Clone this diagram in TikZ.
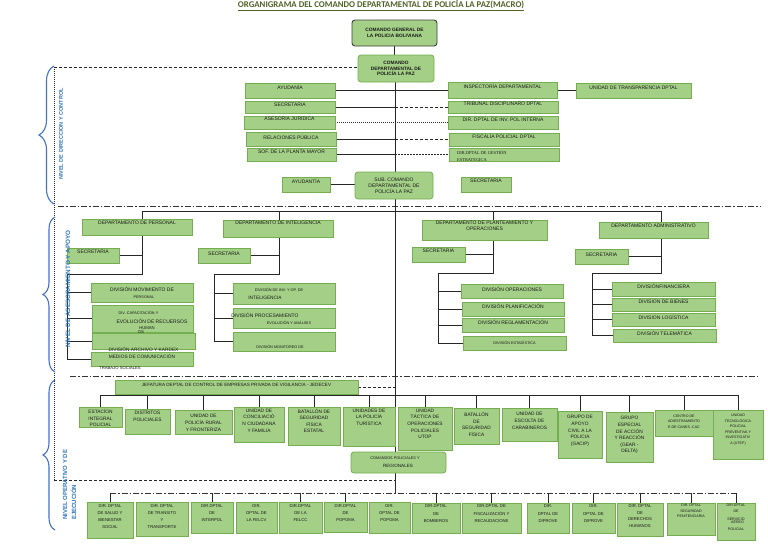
\documentclass[tikz,border=0pt]{standalone}
\usepackage{fontspec}
\setmainfont{Liberation Sans}
\newfontfamily\titlefont{Carlito}
\newfontfamily\serifft{Liberation Serif}
\usetikzlibrary{decorations.pathreplacing}
\pgfdeclarelayer{bg}
\pgfsetlayers{bg,main}
\definecolor{boxfill}{HTML}{A3CF86}
\definecolor{boxline}{HTML}{74AE50}
\definecolor{darkb}{HTML}{404040}
\definecolor{txt}{HTML}{1A1A1A}
\definecolor{lvl}{HTML}{2E75B6}
\definecolor{bracecol}{HTML}{4472C4}
\definecolor{ttl}{HTML}{4F6228}
\newcommand\fs[2]{\fontsize{#1}{#2}\selectfont}
\newcommand\bx[5]{\node[gbox,minimum width=#4pt,minimum height=#5pt,anchor=north west] (#1) at (#2,#3) {};}
\newcommand\gb[8]{%
 \node[gbox,minimum width=#4pt,minimum height=#5pt,anchor=north west] (#1) at (#2,#3) {};%
 \node[lbl,anchor=north,#7] (#1t) at ([yshift=-#6pt]#1.north) {#8};}
\begin{document}
\begin{tikzpicture}[x=1pt,y=-1pt,
 gbox/.style={draw=boxline,fill=boxfill,line width=0.8pt,inner sep=0pt,outer sep=0pt},
 rbox/.style={gbox,rounded corners=3pt},
 lbl/.style={inner sep=0.3pt,align=center,text=txt,font=\fs{5}{6}},
 fsm/.style={font=\fs{4.8}{6.6}},
 fss/.style={font=\fs{4.2}{7.2}},
 fsxs/.style={font=\fs{3.6}{5.5}},
 conn/.style={draw=black!85,line width=1pt},
 dashc/.style={conn,dash pattern=on 3pt off 2pt},
 dotc/.style={conn,dash pattern=on 1pt off 1pt},
 sepdd/.style={draw=black!80,line width=0.9pt,dash pattern=on 6pt off 2pt on 1.5pt off 2pt},
 lvltxt/.style={text=lvl,font=\bfseries\fs{5.5}{7},inner sep=0pt},
 bracestyle/.style={draw=bracecol,line width=1.1pt,decorate,decoration={brace,amplitude=#1}}]
\useasboundingbox (0,0) rectangle (768,544);

% title
\node[font=\titlefont\bfseries\fs{8.8}{10},text=ttl,inner sep=0pt] (title) at (381,5) {\underline{ORGANIGRAMA DEL COMANDO DEPARTAMENTAL DE POLICÍA LA PAZ(MACRO)}};

% top commands
\node[rbox,draw=darkb,line width=0.9pt,minimum width=85pt,minimum height=26pt,anchor=north west,font=\bfseries\fs{4.8}{5.8},align=center,text=txt] (cg) at (352,20) {COMANDO GENERAL DE\\LA POLICIA BOLIVIANA};
\node[rbox,minimum width=76pt,minimum height=27pt,anchor=north west,font=\bfseries\fs{4.8}{5.8},align=center,text=txt] (cd) at (358,55) {COMANDO\\DEPARTAMENTAL DE\\POLICÍA LA PAZ};
\node[rbox,minimum width=78pt,minimum height=27pt,anchor=north west,font=\fs{5}{6},align=center,text=txt] (sub) at (355,172) {SUB. COMANDO\\DEPARTAMENTAL DE\\POLICÍA LA PAZ};

% staff
\gb{ayu}{245}{83}{90}{15}{1.2}{}{AYUDANÍA}
\gb{sec1}{245}{101}{90}{12}{1.2}{}{SECRETARIA}
\gb{ase}{244}{116}{91}{13}{1}{}{ASESORIA JURIDICA}
\gb{rel}{246}{132}{90}{14}{2.5}{}{RELACIONES PÚBLICA}
\gb{sof}{247}{148}{89}{13}{1.5}{}{SOF. DE LA PLANTA MAYOR}
\gb{insp}{448}{82}{109}{16}{1.5}{}{INSPECTORÍA DEPARTAMENTAL}
\gb{trib}{448}{101}{110}{12}{1}{}{TRIBUNAL DISCIPLINARO DPTAL}
\gb{dir}{448}{116}{110}{13}{1.5}{}{DIR. DPTAL DE INV. POL INTERNA}
\gb{fisc}{449}{133}{110}{13}{1}{}{FISCALÍA POLICIAL DPTAL}
\bx{gest}{449}{148}{110}{13}
\node[anchor=north west,align=left,font=\serifft\fs{4.4}{7},text=txt,inner sep=0pt] (gestt) at (457,151) {DIR.DPTAL DE GESTIÓN\\ESTRATEGICA};
\gb{transp}{576}{83}{115}{15}{2.5}{}{UNIDAD DE TRANSPARENCIA DPTAL}
\gb{ayut}{282}{177}{48}{15}{1.2}{}{AYUDANTÍA}
\gb{sec2}{461}{177}{50}{15}{1.2}{}{SECRETARIA}

% level 2 departments
\gb{dper}{82}{219}{110}{16}{1.5}{}{DEPARTAMENTO DE PERSONAL}
\gb{sper}{67}{248}{52}{15}{1.5}{}{SECRETARIA}
\gb{dint}{223}{220}{110}{17}{1}{}{DEPARTAMENTO DE INTELIGENCIA}
\gb{sint}{198}{248}{52}{15}{4}{}{SECRETARIA}
\gb{dpla}{422}{220}{125}{20}{1}{}{DEPARTAMENTO DE PLANTEAMIENTO Y\\OPERACIONES}
\gb{spla}{412}{247}{53}{15}{1.5}{}{SECRETARIA}
\gb{dadm}{599}{222}{109}{16}{2}{}{DEPARTAMENTO ADMINISTRATIVO}
\gb{sadm}{575}{249}{53}{15}{4}{}{SECRETARIA}

% personal divisions
\gb{p1}{91}{283}{102}{19}{3.5}{}{DIVISIÓN MOVIMIENTO DE}
\node[lbl,font=\fs{3.8}{5}] (p1b) at (144,297) {PERSONAL};
\gb{p2}{92}{305}{101}{27}{6}{font=\fs{3.8}{5},xshift=-4pt}{DIV. CAPACITACIÓN Y}
\node[lbl] (p2b) at (152,321) {EVOLUCIÓN DE RECUERSOS};
\node[lbl,font=\fs{4.2}{5}] (p2c) at (147,328) {HUMAN};
\node[lbl,font=\fs{4.2}{5}] (p2d) at (141,332.5) {OS};
\gb{p3}{92}{333}{103}{16}{13.5}{font=\fs{4.8}{6}}{DIVISIÓN ARCHIVO Y KARDEX}
\gb{p4}{91}{352}{102}{14}{2}{font=\fs{4.8}{6}}{MEDIOS DE COMUNICACIÓN}
\node[lbl,font=\fs{4.2}{5}] (trab) at (120,368) {TRABAJO SOCIALES};

% intelligence divisions
\gb{i1}{233}{283}{102}{21}{5}{font=\fs{3.8}{5},xshift=-5pt}{DIVISIÓN DE INV. Y OP. DE}
\node[lbl,font=\fs{4.8}{6}] (i1b) at (265,297.5) {INTELIGENCIA};
\bx{i2}{233}{308}{102}{20}
\node[lbl] (i2a) at (265,315) {DIVISIÓN PROCESAMIENTO};
\node[lbl,font=\fs{3.8}{5}] (i2b) at (289,322.5) {EVOLUCIÓN Y ANÁLISIS};
\gb{i3}{233}{332}{102}{19}{13}{font=\fs{3.8}{5},xshift=-4pt}{DIVISIÓN MONITOREO DE}

% planning divisions
\gb{o1}{461}{284}{102}{14}{2.5}{}{DIVISIÓN OPERACIONES}
\gb{o2}{462}{302}{102}{14}{2}{}{DIVISIÓN PLANIFICACIÓN}
\gb{o3}{462}{318}{102}{14}{1.5}{}{DIVISIÓN REGLAMENTACIÓN}
\gb{o4}{463}{336}{103}{14}{4.5}{font=\fs{3.8}{5}}{DIVISIÓN ESTADÍSTICA}

% admin divisions
\gb{a1}{612}{282}{103}{14}{1.5}{}{DIVISIÓNFINANCIERA}
\gb{a2}{612}{298}{103}{13}{1.5}{}{DIVISION DE BIENES}
\gb{a3}{612}{313}{103}{13}{2}{}{DIVISION LOGÍSTICA}
\gb{a4}{613}{329}{103}{13}{2}{}{DIVISIÓN TELEMÁTICA}

% level 3
\gb{jef}{115}{380}{243}{14}{2.5}{font=\fs{4.6}{6}}{JEFATURA DEPTAL DE CONTROL DE EMPRESAS PRIVADA DE VIGILANCIA - JEDECEV}
\gb{e1}{79}{407}{43}{20}{2}{fsm}{ESTACÍON\\INTEGRAL\\POLICIAL}
\gb{e2}{125}{409}{45}{25}{2}{fsm}{DISTRITOS\\POLICIALES}
\gb{e3}{175}{410}{57}{24}{4}{fsm}{UNIDAD DE\\POLICÍA RURAL\\Y FRONTERIZA}
\gb{e4}{234}{407}{50}{35}{1.5}{fsm}{UNIDAD DE\\CONCILIACIÓ\\N CIUDADANA\\Y FAMILIA}
\gb{e5}{288}{407}{52}{38}{1.5}{fsm}{BATALLÓN DE\\SEGURIDAD\\FÍSICA\\ESTATAL}
\gb{e6}{343}{407}{52}{39}{1.5}{fsm}{UNIDADES DE\\LA POLICÍA\\TURÍSTICA}
\gb{e7}{398}{407}{54}{43}{1.5}{fsm}{UNIDAD\\TÁCTICA DE\\OPERACIONES\\POLICIALES\\UTOP}
\gb{e8}{454}{408}{45}{36}{4}{fsm}{BATALLÓN\\DE\\SEGURIDAD\\FÍSICA}
\gb{e9}{502}{408}{55}{33}{4}{fsm}{UNIDAD DE\\ESCOLTA DE\\CARABINEROS}
\gb{e10}{558}{411}{44}{47}{4}{fsm}{GRUPO DE\\APOYO\\CIVIL A LA\\POLICIA\\(GACIP)}
\gb{e11}{606}{412}{47}{50}{4}{fsm}{GRUPO\\ESPECIAL\\DE ACCIÓN\\Y REACCIÓN\\(GEAR -\\DELTA)}
\gb{e12}{655}{410}{58}{26}{4}{fsxs}{CENTRO DE\\ADIESTRAMIENTO\\E DE CANES -CAC}
\gb{e13}{713}{410}{50}{49}{4}{fsxs}{UNIDAD\\TECNOLÓGICA\\POLICIAL\\PREVENTIVA Y\\INVESTIGATIV\\A (UTEP)}
\node[rbox,minimum width=95pt,minimum height=21pt,anchor=north west] (com) at (351,452) {};
\node[lbl,font=\fs{3.8}{5}] (coma) at (395,458.5) {COMANDOS POLICIALES Y};
\node[lbl,font=\fs{4.6}{5}] (comb) at (398,466) {REGIONALES};

% bottom row
\gb{b1}{87}{502}{46}{36}{2}{fss}{DIR. DPTAL\\DE SALUD Y\\BIENESTAR\\SOCIAL}
\gb{b2}{136}{502}{52}{34}{2}{fss}{DIR. DPTAL\\DE TRANSITO\\Y\\TRANSPORTE}
\gb{b3}{191}{502}{42}{31}{2}{fss}{DIR.DPTAL\\DE\\INTERPOL}
\gb{b4}{236}{502}{41}{31}{2}{fss}{DIR.\\DPTAL DE\\LA FELCV}
\gb{b5}{279}{502}{43}{31}{2}{fss}{DIR.DPTAL\\DE LA\\FELCC}
\gb{b6}{324}{502}{43}{30}{2}{fss}{DIR.DPTAL\\DE\\POPOMA}
\gb{b7}{369}{502}{41}{31}{2}{fss}{DIR.\\DPTAL DE\\POPOMA}
\gb{b8}{412}{503}{48}{30}{1.5}{fss}{DIR.DPTAL\\DE\\BOMBEROS}
\gb{b9}{462}{503}{59}{30}{1.5}{fss}{DIR.DPTAL DE\\FISCALIZACIÓN Y\\RECAUDACIONE}
\gb{b10}{527}{503}{42}{30}{1.5}{fss}{DIR.\\DPTAL DE\\DIPROVE}
\gb{b11}{572}{503}{43}{30}{1.5}{fss}{DIR.\\DPTAL DE\\DIPROVE}
\gb{b12}{617}{503}{46}{33}{1}{font=\fs{4.2}{6.7}}{DIR. DPTAL\\DE\\DERECHOS\\HUMANOS}
\gb{b13}{667}{503}{48}{32}{1}{fsxs}{DIR. DPTAL\\SEGURIDAD\\PENITENCIARIA}
\gb{b14}{717}{503}{38}{37}{0.8}{fsxs}{DIR.DPTAL\\DE\\[3pt]SERVICIO\\[4pt]POLICIAL}
\node[lbl,fsxs] (b14a) at (737.5,521.5) {AÉREO};

% level labels
\node[lvltxt,rotate=90] (lv1) at (61,134) {NIVEL DE DIRECCION Y CONTROL};
\node[lvltxt,rotate=90,font=\bfseries\fs{6.3}{7}] (lv2) at (68,289) {NIVEL DE ASESORAMIENTO Y APOYO};
\node[lvltxt,rotate=90,align=left,anchor=west,font=\bfseries\fs{6}{9}] (lv3) at (69.5,520) {NIVEL OPERATIVO Y DE\\EJECUCIÓN};

% coordinates
\coordinate (trk) at (395,0);
\coordinate (tl) at (54,67);
\coordinate (bl) at (54,480);
\coordinate (b2L) at (142,211);
\coordinate (b2R) at (661,211);
\coordinate (perJ) at (142,274);
\coordinate (perL) at (67,274);
\coordinate (intX) at (279,211);
\coordinate (intJ) at (279,274);
\coordinate (intL) at (214,274);
\coordinate (plaX) at (493,211);
\coordinate (plaJ) at (493,273);
\coordinate (plaL) at (438,273);
\coordinate (admJ) at (661,273);
\coordinate (admL) at (592,273);
\coordinate (b3L) at (100,395);
\coordinate (b3R) at (738,395);
\coordinate (b4L) at (110,493);
\coordinate (b4R) at (737,493);

\begin{pgfonlayer}{bg}
\fill[white] (0,0) rectangle (768,544);
% frame and separators
\draw[dotc] (tl) -- (bl);
\draw[dashc] (tl) -- (tl -| cd.west);
\draw[dashc] (bl) -- (bl -| trk);
\draw[sepdd] (58,206) -- (760,206);
\draw[sepdd] (70,376) -- (758,376);
% trunk
\draw[conn] (cg.south) -- (cg.south |- cd.north);
\draw[conn] (cd.south -| trk) -- (sub.north -| trk);
\draw[conn] (sub.south -| trk) -- (com.north -| trk);
\draw[conn] (com.south -| trk) -- (trk |- b4L);
% staff
\draw[conn] (ayu.east) -- (ayu.east -| insp.west);
\draw[conn] (insp.east) -- (insp.east -| transp.west);
\draw[conn] (sec1.east) -- (sec1.east -| trk);
\draw[dashc] (sec1.east -| trk) -- (sec1.east -| trib.west);
\draw[dotc] (ase.east) -- (ase.east -| dir.west);
\draw[conn] (rel.east) -- (rel.east -| trk);
\draw[dashc] (rel.east -| trk) -- (rel.east -| fisc.west);
\draw[conn] (sof.east) -- (sof.east -| trk);
\draw[dotc,dash pattern=on 2pt off 1pt] (sof.east -| trk) -- (sof.east -| gest.west);
\draw[conn] (ayut.east) -- (ayut.east -| sub.west);
% level 2 bus
\draw[conn] (b2L) -- (b2R);
\draw[conn] (b2L) -- (b2L |- dper.north);
\draw[conn] (intX) -- (intX |- dint.north);
\draw[conn] (plaX) -- (plaX |- dpla.north);
\draw[conn] (b2R) -- (b2R |- dadm.north);
% personal tree
\draw[conn] (b2L |- dper.south) -- (perJ) -- (perL) -- (perL |- p4.west);
\draw[conn] (sper.east) -- (sper.east -| perJ);
\foreach \n in {p1,p2,p3,p4} \draw[conn] (perL |- \n.west) -- (\n.west);
% intelligence tree
\draw[conn] (intX |- dint.south) -- (intJ) -- (intL) -- (intL |- i3.west);
\draw[conn] (sint.east) -- (sint.east -| intJ);
\foreach \n in {i1,i2,i3} \draw[conn] (intL |- \n.west) -- (\n.west);
% planning tree
\draw[conn] (plaX |- dpla.south) -- (plaJ) -- (plaL) -- (plaL |- o4.west);
\draw[conn] (spla.east) -- (spla.east -| plaJ);
\foreach \n in {o1,o2,o3,o4} \draw[conn] (plaL |- \n.west) -- (\n.west);
% admin tree
\draw[conn] (b2R |- dadm.south) -- (admJ) -- (admL) -- (admL |- a4.west);
\draw[conn] (sadm.east) -- (sadm.east -| admJ);
\foreach \n in {a1,a2,a3,a4} \draw[conn] (admL |- \n.west) -- (\n.west);
% level 3
\draw[dashc] (jef.east) -- (jef.east -| trk);
\draw[conn] (b3L) -- (b3R);
\foreach \n in {e1,e2,e3,e4,e5,e6,e7,e8,e9,e10,e11,e12,e13} \draw[conn] (\n.north |- b3L) -- (\n.north);
% bottom row
\draw[sepdd] (b4L) -- (b4R);
\foreach \n in {b1,b3,b5,b6,b8,b9,b10,b11,b12,b13,b14} \draw[conn] (\n.north |- b4L) -- (\n.north);
\end{pgfonlayer}

% braces
\draw[bracestyle=15pt] (54,204) -- (54,66);
\draw[bracestyle=12pt] (55,372) -- (55,217);
\draw[bracestyle=12pt] (55,530) -- (55,380);
\end{tikzpicture}
\end{document}
